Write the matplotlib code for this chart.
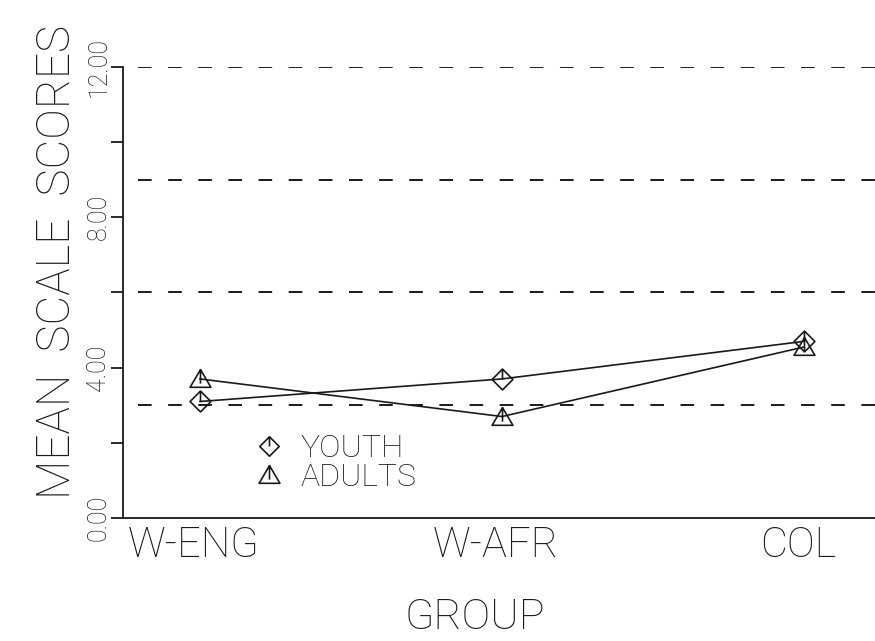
import matplotlib
matplotlib.use("Agg")
import matplotlib.pyplot as plt
import matplotlib.transforms as mtransforms
from matplotlib.path import Path
from matplotlib.lines import Line2D

# Mean scale scores by group
groups = ["W-ENG", "W-AFR", "COL"]
youth = [3.1, 3.7, 4.7]
adults = [3.7, 2.7, 4.55]
ref_levels = [3, 6, 9, 12]
ytick_vals = [0, 2, 4, 6, 8, 10, 12]
ytick_text = ["0.00", "", "4.00", "", "8.00", "", "12.00"]

# plotter-style symbols: open diamond / triangle with a stroke from the top vertex
diamond = Path([(0, 1), (1, 0), (0, -1), (-1, 0), (0, 1), (0, 1), (0, 0)],
               [Path.MOVETO, Path.LINETO, Path.LINETO, Path.LINETO, Path.CLOSEPOLY,
                Path.MOVETO, Path.LINETO])
triangle = Path([(-1, -0.75), (1, -0.75), (0, 0.95), (-1, -0.75), (0, 0.95), (0, -0.4)],
                [Path.MOVETO, Path.LINETO, Path.LINETO, Path.CLOSEPOLY,
                 Path.MOVETO, Path.LINETO])

ink = "#1a1a1a"
plt.rcParams["font.family"] = ["Roboto", "DejaVu Sans"]
plt.rcParams["font.weight"] = "light"

fig = plt.figure(figsize=(8.75, 6.41), dpi=100)
ax = fig.add_axes([123 / 875, 123 / 641, 1 - 123 / 875, (518 - 67) / 641])

x = list(range(len(groups)))
for lvl in ref_levels:
    ax.axhline(lvl, xmin=15 / 752, color=ink, lw=1.4, dashes=(7, 8.5), zorder=1)

ax.plot(x, youth, color=ink, lw=1.2, marker=diamond, ms=15, mfc="none",
        mec=ink, mew=1.2, zorder=3)
ax.plot(x, adults, color=ink, lw=1.2, marker=triangle, ms=15, mfc="none",
        mec=ink, mew=1.2, zorder=3)

ax.set_xlim(-0.255, 2.235)
ax.set_ylim(0, 12)

for side in ("top", "right"):
    ax.spines[side].set_visible(False)
for side in ("left", "bottom"):
    ax.spines[side].set_color(ink)
    ax.spines[side].set_linewidth(1.3)

ax.set_xticks(x)
ax.set_xticklabels(groups, fontsize=30, color=ink)
ax.tick_params(axis="x", length=0, pad=5)
shift = mtransforms.ScaledTranslation(-6 / 100, 0, fig.dpi_scale_trans)
for lab in ax.get_xticklabels():
    lab.set_transform(lab.get_transform() + shift)

ax.set_yticks(ytick_vals)
ax.set_yticklabels(ytick_text, rotation=90, va="center", fontsize=18, color=ink)
ax.tick_params(axis="y", length=9, width=1.3, color=ink, direction="out", pad=0)

fig.text(57 / 875, 1 - 262 / 641, "MEAN  SCALE  SCORES", rotation=90,
         ha="center", va="center", fontsize=33, color=ink)
fig.text(475 / 875, 1 - 617 / 641, "GROUP", ha="center", va="center",
         fontsize=31, color=ink)

handles = [
    Line2D([], [], ls="none", marker=diamond, ms=14, mfc="none", mec=ink, mew=1.2),
    Line2D([], [], ls="none", marker=triangle, ms=15, mfc="none", mec=ink, mew=1.2),
]
ax.legend(handles, ["YOUTH", "ADULTS"], loc="upper left",
          bbox_to_anchor=(114 / 752, (518 - 418) / 451), frameon=False,
          fontsize=23, handlelength=1.0, handletextpad=0.5, labelspacing=0.0,
          borderpad=0, labelcolor=ink)

fig.savefig("out.png", dpi=100, facecolor="white")
